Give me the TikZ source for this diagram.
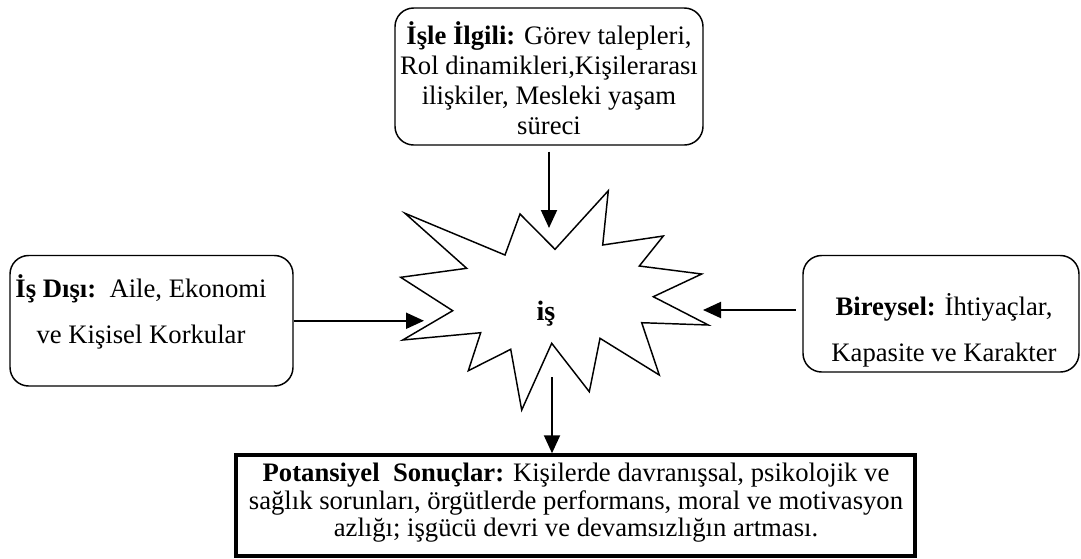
\documentclass[tikz,border=0pt]{standalone}
\usepackage{fontspec}
\setmainfont{Liberation Serif}
\usetikzlibrary{arrows.meta}

% centred block of lines whose baseline is the first line's baseline
\newcommand{\linesblock}[1]{\begin{tabular}[t]{@{}c@{}}#1\end{tabular}}

\tikzset{
  rbox/.style={draw, line width=1.1pt, rounded corners=14pt, inner sep=0pt},
  sbox/.style={draw, line width=2.6pt, inner sep=0pt},
  lbl/.style={inner sep=0pt, anchor=base},
  conn/.style={line width=1.5pt, -{Triangle[length=13.5pt, width=12pt]}},
  starline/.style={line width=1.1pt, line join=miter}
}

\begin{document}
\begin{tikzpicture}[x=0.75pt, y=-0.75pt]
\useasboundingbox (0,0) rectangle (1081,558);

% boxes
\node[rbox, minimum width=308*0.75pt, minimum height=137*0.75pt] (topbox) at (549,76.5) {};
\node[rbox, minimum width=283*0.75pt, minimum height=130.5*0.75pt] (leftbox) at (151.5,320.75) {};
\node[rbox, minimum width=276*0.75pt, minimum height=116.5*0.75pt] (rightbox) at (941,313.75) {};
\node[sbox, minimum width=679*0.75pt, minimum height=101*0.75pt] (bottombox) at (575.5,505.5) {};

% box texts
\node[lbl, font=\fontsize{20pt}{22.5pt}\selectfont] (toptext) at (549,44.5)
  {\linesblock{\textbf{İşle İlgili:} Görev talepleri,\\ Rol dinamikleri,Kişilerarası\\ ilişkiler, Mesleki yaşam\\ süreci}};
\node[lbl, font=\fontsize{20pt}{34.5pt}\selectfont] (lefttext) at (141,297)
  {\linesblock{\textbf{İş Dışı:}\ \ Aile, Ekonomi\\ ve Kişisel Korkular}};
\node[lbl, font=\fontsize{20pt}{34.5pt}\selectfont] (righttext) at (944,315)
  {\linesblock{\textbf{Bireysel:} İhtiyaçlar,\\ Kapasite ve Karakter}};
\node[lbl, font=\fontsize{20pt}{20.6pt}\selectfont] (bottomtext) at (576,481.7)
  {\linesblock{\textbf{Potansiyel\ \ Sonuçlar:} Kişilerde davranışsal, psikolojik ve\\ sağlık sorunları, örgütlerde performans, moral ve motivasyon\\ azlığı; işgücü devri ve devamsızlığın artması.}};

% the burst
\draw[starline] (405,213.3) -- (505,255) -- (520,214) -- (555,249.3) -- (608.3,190.7)
  -- (602.7,245) -- (663.3,236) -- (639.3,266) -- (701.7,274) -- (653.3,296.7)
  -- (708.3,325) -- (641.7,322.7) -- (659.3,375) -- (600,338.3) -- (589.3,391.7)
  -- (551.7,343.3) -- (521.7,410) -- (510.7,349.3) -- (468.3,370.7) -- (480.7,332.7)
  -- (402.7,340) -- (452.7,310.7) -- (400.7,277.3) -- (466.7,268.3) -- cycle;
\node[lbl, font=\fontsize{21pt}{24pt}\selectfont\bfseries] (burst) at (546,320) {iş};

% arrow ends on the burst
\coordinate (starN) at (549,228);
\coordinate (starW) at (424,320.75);
\coordinate (starE) at (703,310);
\coordinate (starS) at (552,377);

% connectors
\draw[conn, shorten <=4.5pt] (topbox.south) -- (starN);
\draw[conn] (leftbox.east) -- (starW);
\draw[conn, shorten <=5pt] (rightbox.west |- starE) -- (starE);
\draw[conn] (starS) -- (starS |- bottombox.north);
\end{tikzpicture}
\end{document}
